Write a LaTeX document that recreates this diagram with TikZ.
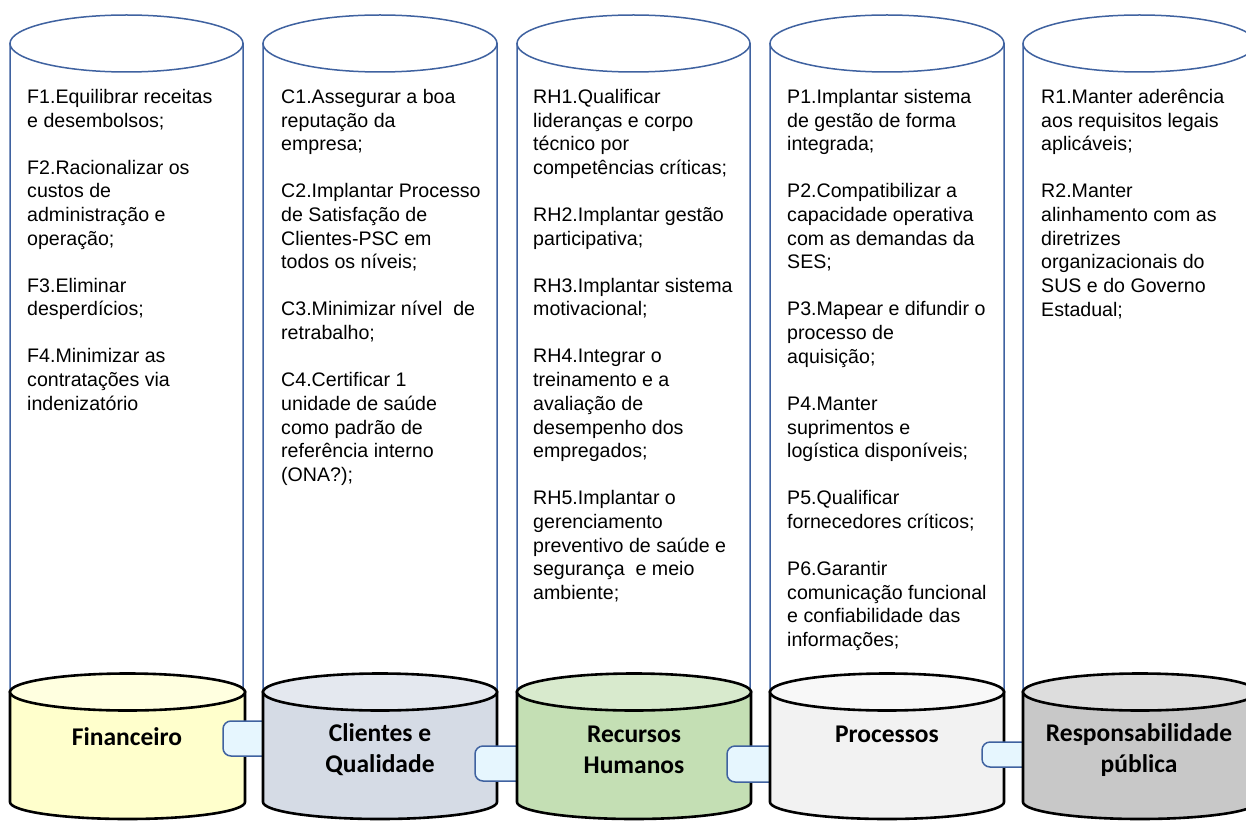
\documentclass[tikz,border=0pt]{standalone}
\usepackage{fontspec}
\setmainfont{Liberation Sans}
\newfontfamily\labfont{Carlito}
\definecolor{tallblue}{HTML}{3F62A0}
\definecolor{tabfill}{HTML}{E6F6FE}
\definecolor{fina}{HTML}{FFFFCC}
\definecolor{finb}{HTML}{FFFFE0}
\definecolor{clia}{HTML}{D5DBE5}
\definecolor{clib}{HTML}{E4E8EF}
\definecolor{reca}{HTML}{C4DFB4}
\definecolor{recb}{HTML}{D8EACD}
\definecolor{proa}{HTML}{F2F2F2}
\definecolor{prob}{HTML}{F8F8F8}
\definecolor{resa}{HTML}{C8C8C8}
\definecolor{resb}{HTML}{DDDDDD}
\newcommand\tallcylinder[2]{%
  \pgfmathsetmacro\tcx{(#1+#2)/2}\pgfmathsetmacro\trx{(#2-#1)/2}%
  \filldraw[tallcyl] (#1,43) -- (#1,790) arc[start angle=180, end angle=360, x radius=\trx pt, y radius=17pt] -- (#2,43);
  \filldraw[tallcyl] (\tcx,43.5) ellipse [x radius=\trx pt, y radius=28.5pt];
}
\newcommand\bottomcylinder[4]{%
  \pgfmathsetmacro\bcx{(#1+#2)/2}\pgfmathsetmacro\brx{(#2-#1)/2}%
  \filldraw[botcyl, fill=#3] (#1,692) -- (#1,802) arc[start angle=180, end angle=360, x radius=\brx pt, y radius=17pt] -- (#2,692) -- cycle;
  \filldraw[botcyl, fill=#4] (\bcx,692) ellipse [x radius=\brx pt, y radius=18.5pt];
}
\newcommand\tabshape[4]{%
  \filldraw[tab] (#2,#3) [rounded corners=8pt] -- (#1,#3) -- (#1,#4) [sharp corners] -- (#2,#4);
}
\begin{document}
\begin{tikzpicture}[x=1pt,y=-1pt,
  tallcyl/.style={draw=tallblue, line width=1.5pt, fill=white},
  botcyl/.style={draw=black, line width=2.6pt},
  tab/.style={draw=tallblue, line width=1.5pt, fill=tabfill},
  txt/.style={anchor=north west, inner sep=0pt, align=left, font=\fontsize{19.6}{23.7}\selectfont},
  lab/.style={inner sep=0pt, align=center, font=\labfont\bfseries\fontsize{25.5}{31}\selectfont}]
\useasboundingbox (0,0) rectangle (1246,821);
\clip (0,0) rectangle (1246,821);
\fill[white] (0,0) rectangle (1246,821);

% tall cylinders
\tallcylinder{10}{243}
\tallcylinder{263}{497}
\tallcylinder{517}{750}
\tallcylinder{770}{1004}
\tallcylinder{1023}{1256}

% texts
\node[txt] (t1) at (27,89) {F1.Equilibrar receitas\\e desembolsos;\\[23.3pt]
F2.Racionalizar os\\custos de\\administração e\\operação;\\[23.3pt]
F3.Eliminar\\desperdícios;\\[23.3pt]
F4.Minimizar as\\contratações via\\indenizatório};
\node[txt] (t2) at (281,89) {C1.Assegurar a boa\\reputação da\\empresa;\\[23.3pt]
C2.Implantar Processo\\de Satisfação de\\Clientes-PSC em\\todos os níveis;\\[23.3pt]
C3.Minimizar nível\ \ de\\retrabalho;\\[23.3pt]
C4.Certificar 1\\unidade de saúde\\como padrão de\\referência interno\\(ONA?);};
\node[txt] (t3) at (533,89) {RH1.Qualificar\\lideranças e corpo\\técnico por\\competências críticas;\\[23.3pt]
RH2.Implantar gestão\\participativa;\\[23.3pt]
RH3.Implantar sistema\\motivacional;\\[23.3pt]
RH4.Integrar o\\treinamento e a\\avaliação de\\desempenho dos\\empregados;\\[23.3pt]
RH5.Implantar o\\gerenciamento\\preventivo de saúde e\\segurança\ \ e meio\\ambiente;};
\node[txt] (t4) at (787,89) {P1.Implantar sistema\\de gestão de forma\\integrada;\\[23.3pt]
P2.Compatibilizar a\\capacidade operativa\\com as demandas da\\SES;\\[23.3pt]
P3.Mapear e difundir o\\processo de\\aquisição;\\[23.3pt]
P4.Manter\\suprimentos e\\logística disponíveis;\\[23.3pt]
P5.Qualificar\\fornecedores críticos;\\[23.3pt]
P6.Garantir\\comunicação funcional\\e confiabilidade das\\informações;};
\node[txt] (t5) at (1041,89) {R1.Manter aderência\\aos requisitos legais\\aplicáveis;\\[23.3pt]
R2.Manter\\alinhamento com as\\diretrizes\\organizacionais do\\SUS e do Governo\\Estadual;};

% bottom cylinders and connecting tabs
\bottomcylinder{10}{245}{fina}{finb}
\tabshape{223}{264}{721}{756}
\bottomcylinder{263}{497}{clia}{clib}
\tabshape{475}{518}{746}{781}
\bottomcylinder{517}{751}{reca}{recb}
\tabshape{727}{771}{746}{782}
\bottomcylinder{770}{1004}{proa}{prob}
\tabshape{982}{1024}{742}{767}
\bottomcylinder{1023}{1257}{resa}{resb}

% labels
\node[lab] (l1) at (127,737) {Financeiro};
\node[lab] (l2) at (380,750) {Clientes e\\Qualidade};
\node[lab] (l3) at (634,750) {Recursos\\Humanos};
\node[lab] (l4) at (887,734) {Processos};
\node[lab] (l5) at (1139,750) {Responsabilidade\\pública};
\end{tikzpicture}
\end{document}
